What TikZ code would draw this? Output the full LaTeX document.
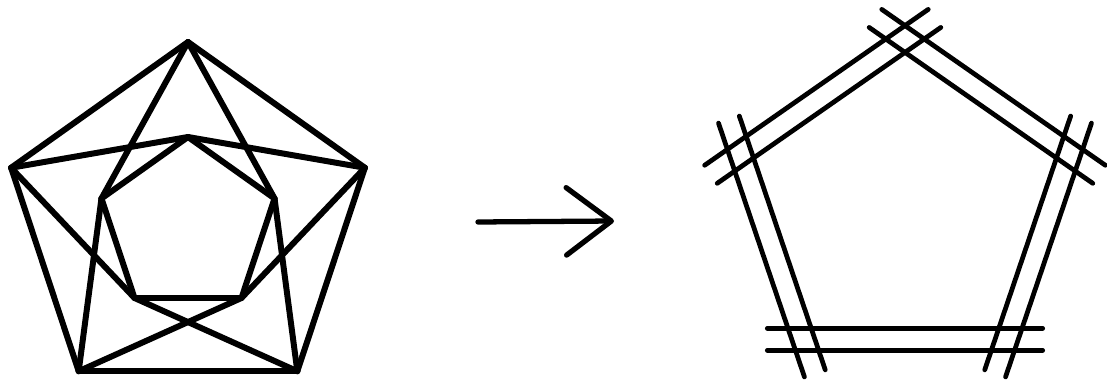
\documentclass[tikz,border=0pt]{standalone}
\usetikzlibrary{arrows.meta,calc}
\tikzset{
  graphedge/.style={line width=3.4pt,line join=round,line cap=round},
  strip/.style={line width=2.7pt,line cap=round},
  mapto/.style={line width=3pt,line cap=round,-{Straight Barb[length=9mm,width=13.5mm,line cap=round,line join=round]}},
}
\begin{document}
\begin{tikzpicture}[x=0.02cm,y=-0.02cm]
  \useasboundingbox (0,0) rectangle (1107,385);

  % ---- left: outer and inner pentagon ----
  \foreach \k in {0,...,4}{
    \pgfmathsetmacro{\ang}{90+72*\k}
    \coordinate (o\k) at ({188+186*cos(\ang)},{224-182*sin(\ang)});
    \coordinate (i\k) at ({188+91*cos(\ang)},{226-89*sin(\ang)});
  }
  \foreach \k/\j in {0/1,1/2,2/3,3/4,4/0}{
    \draw[graphedge] (o\k)--(o\j);
    \draw[graphedge] (i\k)--(i\j);
    \draw[graphedge] (o\k)--(i\j);
    \draw[graphedge] (i\k)--(o\j);
  }

  % ---- arrow ----
  \coordinate (m1) at (478,222);
  \coordinate (m2) at (614,221);
  \draw[mapto] (m1)--(m2);

  % ---- right: doubled sides ----
  \foreach \k in {0,...,4}{
    \pgfmathsetmacro{\ang}{90+72*\k}
    \coordinate (p\k) at ({905+173*cos(\ang)},{205-166*sin(\ang)});
  }
  \foreach \k/\j in {0/1,1/2,2/3,3/4,4/0}{
    \coordinate (e\k a) at ($(p\k)!-0.72cm!(p\j)$);
    \coordinate (e\k b) at ($(p\j)!-0.72cm!(p\k)$);
    \draw[strip] ($(e\k a)!0.22cm!90:(e\k b)$)--($(e\k b)!0.22cm!-90:(e\k a)$);
    \draw[strip] ($(e\k a)!0.22cm!-90:(e\k b)$)--($(e\k b)!0.22cm!90:(e\k a)$);
  }
\end{tikzpicture}
\end{document}
